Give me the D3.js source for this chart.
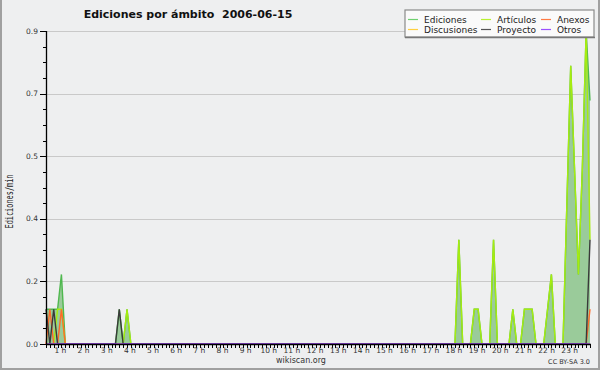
<!DOCTYPE html>
<html>
<head>
<meta charset="utf-8">
<script src="https://cdn.jsdelivr.net/npm/d3@7"></script>
<style>
  body { margin: 0; background: #fff; }
  svg { display: block; }
</style>
</head>
<body>
<svg id="chart" width="600" height="370"></svg>
<script>
// ----- datos (bins de 10 minutos con actividad, más los ceros que los rodean) -----
const times = [
  "00:20", "00:30", "00:40", "00:50", "01:00", "01:10",
  "03:20", "03:30", "03:40", "03:50", "04:00",
  "18:00", "18:10", "18:20",
  "18:40", "18:50", "19:00", "19:10",
  "19:30", "19:40", "19:50",
  "20:20", "20:30", "20:40",
  "20:50", "21:00", "21:10", "21:20", "21:30",
  "21:50", "22:00", "22:10", "22:20",
  "22:40", "22:50", "23:00", "23:10", "23:20", "23:30", "23:40", "23:50"
];
const ediciones   = [.1, .1, .1, .1, .2, 0,  0, .1, 0, .1, 0,  0, .3, 0,  0, .1, .1, 0,  0, .3, 0,  0, .1, 0,  0, .1, .1, .1, 0,  0, .1, .2, 0,  0, .4, .8, .5, .2, .5, .9, .7];
const articulos   = [0, 0, 0, .1, .1, 0,    0, 0, 0, .1, 0,   0, .3, 0,  0, .1, .1, 0,  0, .3, 0,  0, .1, 0,  0, .1, .1, .1, 0,  0, .1, .2, 0,  0, .4, .8, .5, .2, .5, .9, .3];
const anexos      = [0, .1, 0, 0, .1, 0,    0, 0, 0, 0, 0,    0, 0, 0,   0, 0, 0, 0,    0, 0, 0,    0, 0, 0,    0, 0, 0, 0, 0,     0, 0, 0, 0,     0, 0, 0, 0, 0, 0, 0, .1];
const discusiones = [0, 0, 0, 0, 0, 0,      0, 0, 0, 0, 0,    0, 0, 0,   0, 0, 0, 0,    0, 0, 0,    0, 0, 0,    0, 0, 0, 0, 0,     0, 0, 0, 0,     0, 0, 0, 0, 0, 0, 0, 0];
const proyecto    = [.1, 0, .1, 0, 0, 0,    0, .1, 0, 0, 0,   0, 0, 0,   0, 0, 0, 0,    0, 0, 0,    0, 0, 0,    0, 0, 0, 0, 0,     0, 0, 0, 0,     0, 0, 0, 0, 0, 0, 0, .3];
const otros       = [0, 0, 0, 0, 0, 0,      0, 0, 0, 0, 0,    0, 0, 0,   0, 0, 0, 0,    0, 0, 0,    0, 0, 0,    0, 0, 0, 0, 0,     0, 0, 0, 0,     0, 0, 0, 0, 0, 0, 0, 0];

const seriesNames  = ["Ediciones", "Artículos", "Anexos", "Discusiones", "Proyecto", "Otros"];
const seriesValues = [ediciones, articulos, anexos, discusiones, proyecto, otros];
const seriesColors = ["#4fb84f", "#a6ec10", "#ff6a2a", "#ffcc33", "#3a3a3a", "#9340ff"];
const legendColors = ["#6fd06f", "#b8f030", "#ff7a44", "#ffd040", "#555555", "#9a50ff"];

const yTicks = [0, 0.18, 0.36, 0.54, 0.72, 0.9];
const hourLabels = ["1 h", "2 h", "3 h", "4 h", "5 h", "6 h", "7 h", "8 h", "9 h", "10 h", "11 h", "12 h",
  "13 h", "14 h", "15 h", "16 h", "17 h", "18 h", "19 h", "20 h", "21 h", "22 h", "23 h"];

// ----- escalas -----
const toMin = s => { const [h, m] = s.split(":").map(Number); return h * 60 + m; };
const svg = d3.select("#chart");
const x = d3.scaleLinear().domain([20, 1430]).range([46, 590]);
const y = d3.scaleLinear().domain([0, 0.9]).range([344, 31]);

// fondo y borde
svg.append("rect").attr("width", 600).attr("height", 370).attr("fill", "#eeeff0");
svg.append("path").attr("d", "M1,0V369H599V0").attr("fill", "none").attr("stroke", "#a0a0a0").attr("stroke-width", 2);

// rejilla
svg.append("g").selectAll("line").data(yTicks).enter().append("line")
  .attr("x1", 46).attr("x2", 590)
  .attr("y1", d => Math.round(y(d)) + 0.5).attr("y2", d => Math.round(y(d)) + 0.5)
  .attr("stroke", "#c9c9c9").attr("stroke-width", 1);

// ----- área y líneas -----
const pts = times.map(toMin);
const area = d3.area().x((d, i) => x(pts[i])).y0(y(0)).y1(d => y(d));
svg.append("path").datum(ediciones).attr("d", area).attr("fill", "#9acb9a");

const line = d3.line().x((d, i) => x(pts[i])).y(d => y(d));
seriesValues.forEach((vals, k) => {
  svg.append("path").datum(vals).attr("d", line)
    .attr("fill", "none").attr("stroke", seriesColors[k]).attr("stroke-width", 1.4);
});

// ----- ejes -----
const axisG = svg.append("g").attr("fill", "#333").style("font-family", "DejaVu Sans, sans-serif");
// eje Y
axisG.append("line").attr("x1", 46.5).attr("x2", 46.5).attr("y1", 31).attr("y2", 345).attr("stroke", "#000").attr("stroke-width", 1.3);
axisG.selectAll("line.minor").data(d3.range(0, 0.9001, 0.045)).enter().append("line")
  .attr("class", "minor")
  .attr("x1", 43).attr("x2", 46).attr("y1", d => Math.round(y(d)) + 0.5).attr("y2", d => Math.round(y(d)) + 0.5)
  .attr("stroke", "#000");
axisG.selectAll("line.major").data(yTicks).enter().append("line")
  .attr("class", "major")
  .attr("x1", 40).attr("x2", 46).attr("y1", d => Math.round(y(d)) + 0.5).attr("y2", d => Math.round(y(d)) + 0.5)
  .attr("stroke", "#000");
axisG.selectAll("text.ylab").data(yTicks).enter().append("text")
  .attr("class", "ylab")
  .attr("x", 38).attr("y", d => y(d) + 2.5)
  .attr("text-anchor", "end").style("font-size", "7.5px")
  .text(d => d3.format(".1f")(d));

// eje X
axisG.append("line").attr("x1", 46).attr("x2", 591).attr("y1", 344.5).attr("y2", 344.5).attr("stroke", "#000").attr("stroke-width", 1.3);
axisG.selectAll("line.xt").data(d3.range(20, 1431, 10)).enter().append("line")
  .attr("class", "xt")
  .attr("x1", d => Math.round(x(d)) + 0.5).attr("x2", d => Math.round(x(d)) + 0.5)
  .attr("y1", 344).attr("y2", 348).attr("stroke", "#000");
axisG.selectAll("text.xlab").data(hourLabels).enter().append("text")
  .attr("class", "xlab")
  .attr("x", (d, i) => x((i + 1) * 60) - 1).attr("y", 353)
  .attr("text-anchor", "middle").style("font-size", "7.5px")
  .text(d => d);

// títulos
svg.append("text").attr("x", 188).attr("y", 18).attr("text-anchor", "middle")
  .style("font-family", "DejaVu Sans, sans-serif").style("font-weight", "bold").style("font-size", "11px")
  .style("white-space", "pre")
  .attr("fill", "#111").text("Ediciones por ámbito  2006-06-15");
svg.append("text").attr("transform", "translate(13,201.5) rotate(-90)").attr("text-anchor", "middle")
  .style("font-family", "DejaVu Sans Mono, monospace").style("font-size", "10px").attr("fill", "#222")
  .attr("textLength", 54).attr("lengthAdjust", "spacingAndGlyphs")
  .text("Ediciones/min");
svg.append("text").attr("x", 301).attr("y", 363).attr("text-anchor", "middle")
  .style("font-family", "DejaVu Sans, sans-serif").style("font-size", "8px").attr("fill", "#333")
  .text("wikiscan.org");
svg.append("text").attr("x", 590).attr("y", 364).attr("text-anchor", "end")
  .style("font-family", "DejaVu Sans, sans-serif").style("font-size", "6.5px").attr("fill", "#333")
  .text("CC BY-SA 3.0");

// ----- leyenda -----
const leg = svg.append("g");
leg.append("rect").attr("x", 405).attr("y", 10).attr("width", 189).attr("height", 27)
  .attr("fill", "#fafafa").attr("stroke", "#8a8a8a").attr("stroke-width", 1.2);
leg.append("line").attr("x1", 405).attr("x2", 595).attr("y1", 37.5).attr("y2", 37.5).attr("stroke", "#777").attr("stroke-width", 1.5);
const colX = [408, 481, 541];
seriesNames.forEach((name, k) => {
  const cx = colX[k % 3], cy = k < 3 ? 19 : 29;
  leg.append("line").attr("x1", cx).attr("x2", cx + 10).attr("y1", cy + 0.5).attr("y2", cy + 0.5)
    .attr("stroke", legendColors[k]).attr("stroke-width", 1.2);
  leg.append("text").attr("x", cx + 16).attr("y", cy + 3.5)
    .style("font-family", "DejaVu Sans, sans-serif").style("font-size", "9px").attr("fill", "#222")
    .text(name);
});
</script>
</body>
</html>
